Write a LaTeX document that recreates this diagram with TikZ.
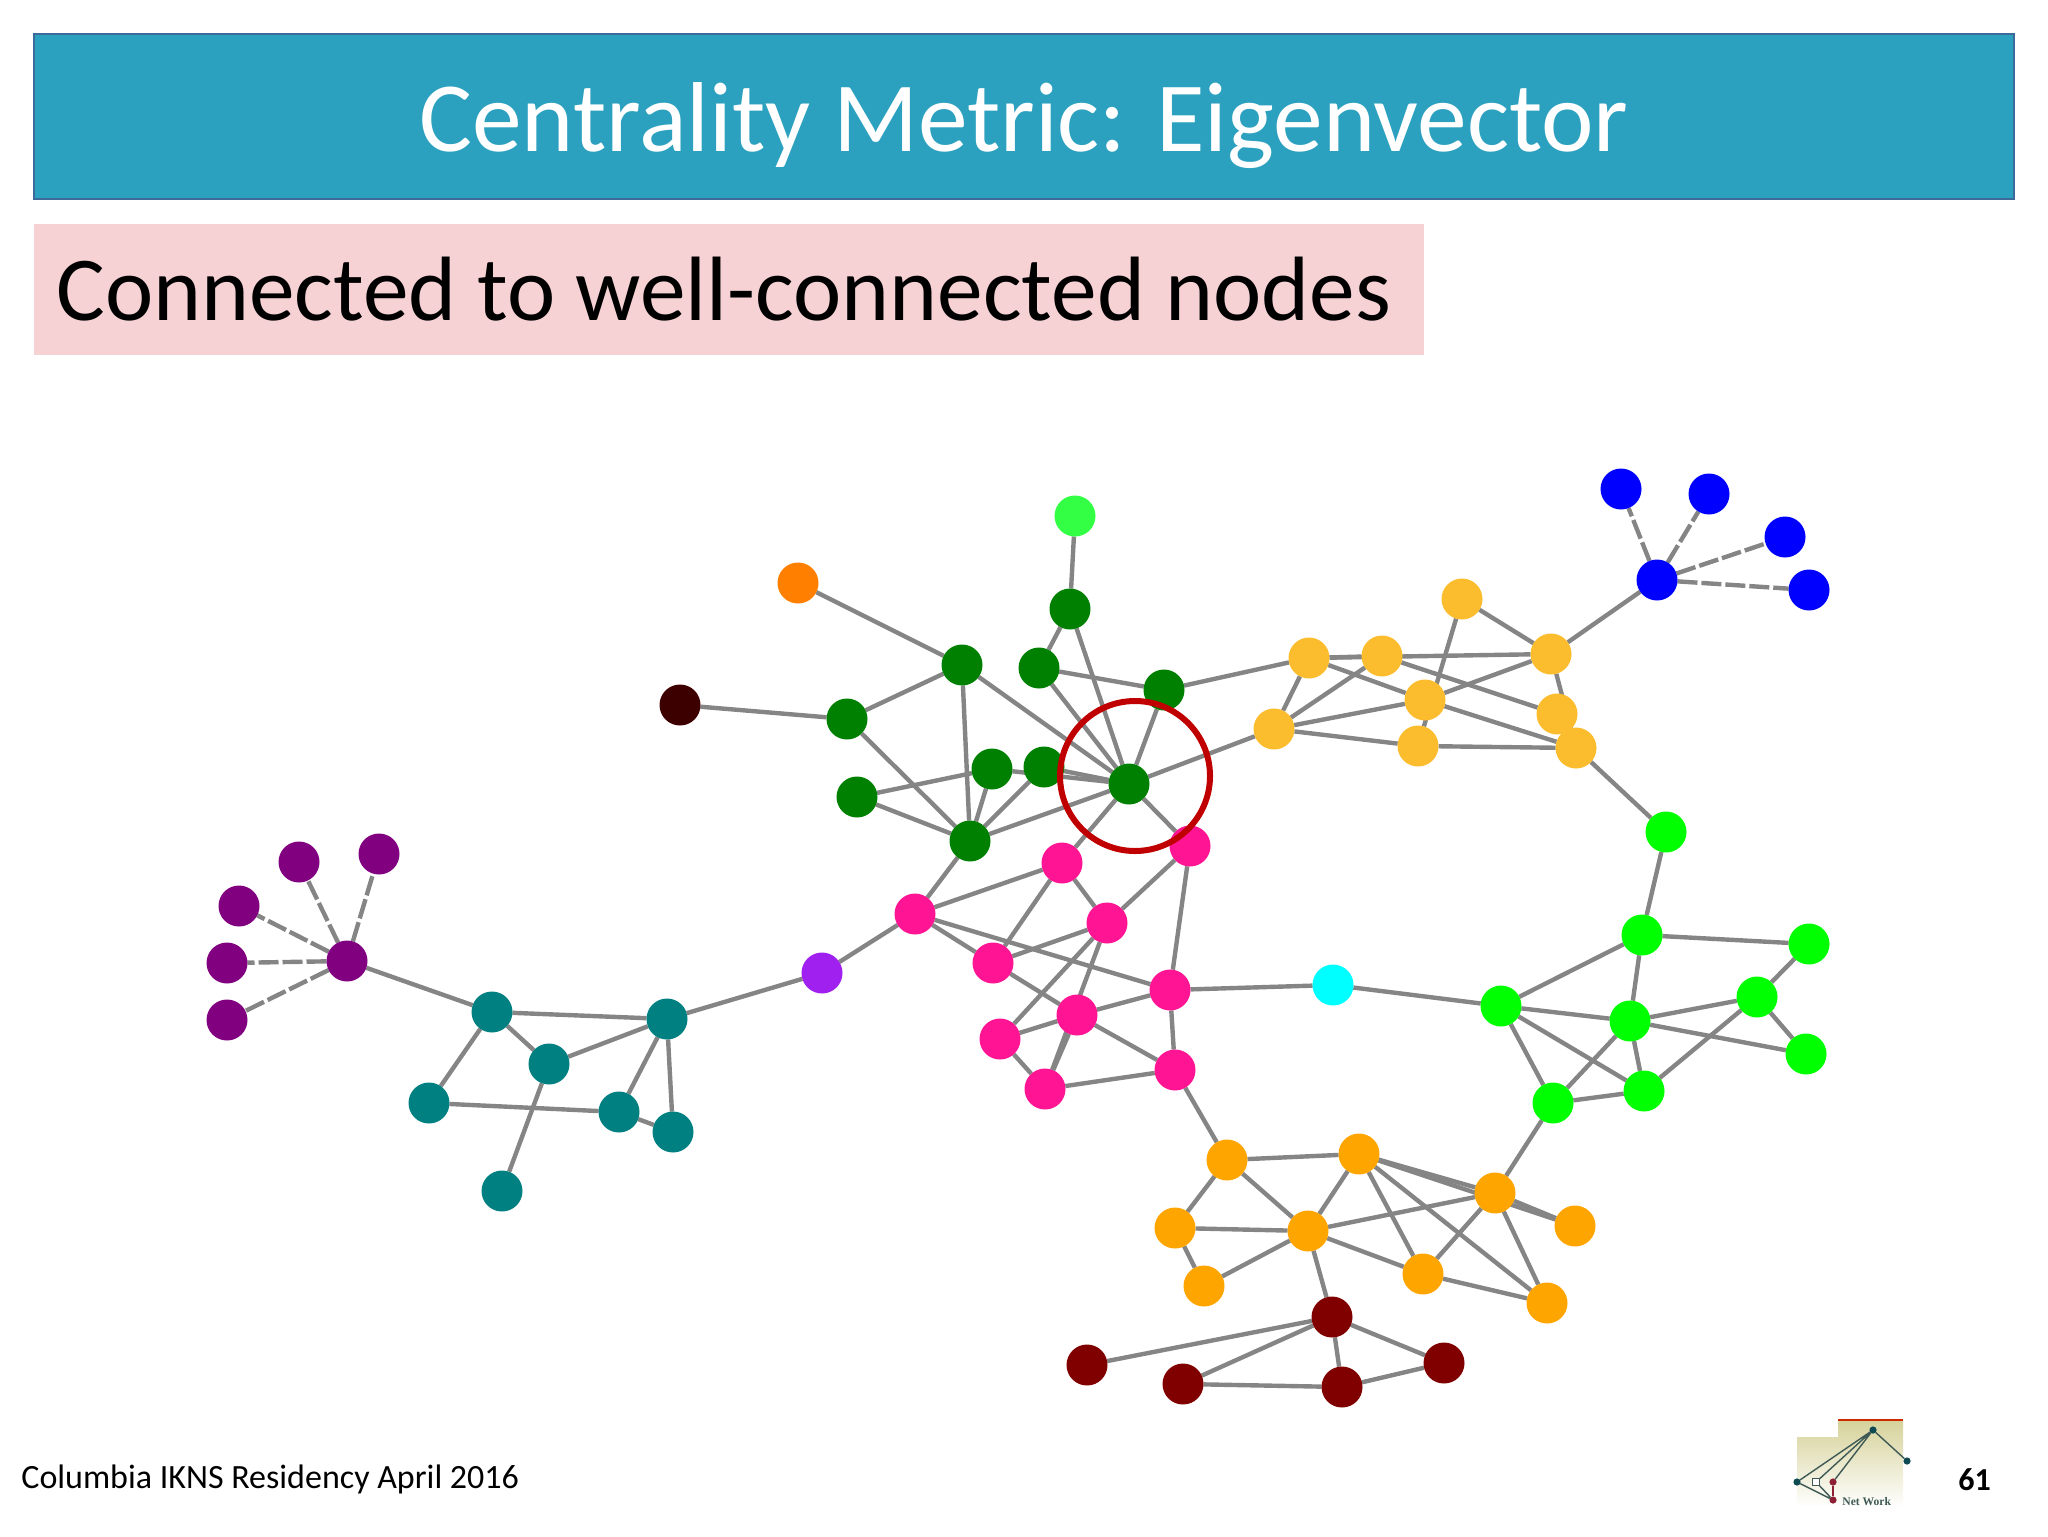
\documentclass[tikz,border=0pt]{standalone}
\usepackage{fontspec}
\setmainfont{Carlito}
\newfontfamily\logofont{Liberation Serif}
\usetikzlibrary{backgrounds}
\definecolor{barblue}{HTML}{2CA1BF}
\definecolor{barline}{HTML}{3D6A99}
\definecolor{subpink}{HTML}{F6D2D5}
\definecolor{edgegray}{HTML}{858585}
\definecolor{ringred}{HTML}{C00000}
\definecolor{cpurple}{HTML}{800080}
\definecolor{cteal}{HTML}{008080}
\definecolor{cgreen}{HTML}{008000}
\definecolor{cpink}{HTML}{FF1493}
\definecolor{cgold}{HTML}{FBBC2E}
\definecolor{corange}{HTML}{FFA500}
\definecolor{clime}{HTML}{00FF00}
\definecolor{cblue}{HTML}{0000FF}
\definecolor{cmaroon}{HTML}{800000}
\definecolor{ccyan}{HTML}{00FFFF}
\definecolor{cviolet}{HTML}{A020F0}
\definecolor{cmint}{HTML}{33FF44}
\definecolor{cdeep}{HTML}{FF8000}
\definecolor{cbrown}{HTML}{3D0000}
\definecolor{logotop}{HTML}{D6D29A}
\definecolor{logoink}{HTML}{3F5A55}
\definecolor{logodot}{HTML}{0E4A52}
\definecolor{logored}{HTML}{8E2035}
\tikzset{
  dot/.style={circle,fill=#1,draw=none,inner sep=0pt,outer sep=0pt,minimum size=20.5pt},
  edge/.style={draw=edgegray,line width=2.2pt},
  dashedge/.style={edge,dash pattern=on 10pt off 2pt},
  logoline/.style={draw=logoink,line width=0.7pt},
  logodotst/.style={circle,fill=#1,draw=none,inner sep=0pt,outer sep=0pt,minimum size=3.6pt},
}
\begin{document}
\begin{tikzpicture}[x=0.5pt,y=-0.5pt]
\useasboundingbox (0,0) rectangle (2048,1536);
% header
\path[fill=barblue,draw=barline,line width=0.6pt] (34,34) rectangle (2014,199);
\path[fill=subpink] (34,224) rectangle (1424,355);
\node[anchor=base,text=white,font=\fontsize{49.7}{60}\selectfont,inner sep=0pt] (title) at (1024,151) {Centrality Metric: Eigenvector};
\node[anchor=base west,text=black,font=\fontsize{45.7}{54}\selectfont,inner sep=0pt] (subtitle) at (56,320) {Connected to well-connected nodes};
\node[anchor=base west,text=black,font=\fontsize{17}{20}\selectfont,inner sep=0pt] (footer) at (21,1488) {Columbia IKNS Residency April 2016};
\node[anchor=base west,text=black,font=\fontsize{16}{19}\selectfont\bfseries,inner sep=0pt] (pageno) at (1958,1490) {61};
% logo
\shade[top color=logotop,bottom color=white] (1797,1437) -- (1838,1437) -- (1838,1420) -- (1903,1420) -- (1903,1507) -- (1797,1507) -- cycle;
\draw[color=red!60!orange!80!black,line width=0.6pt] (1838,1420) -- (1903,1420);
\node[logodotst=logodot] (lt) at (1873,1430) {};
\node[logodotst=logodot] (lr) at (1907,1461) {};
\node[logodotst=logodot] (ll) at (1797,1482) {};
\node[draw=logoink,fill=white,line width=0.4pt,inner sep=0pt,minimum size=3.4pt] (ls) at (1816,1482) {};
\node[logodotst=logored] (lm) at (1833,1482) {};
\node[logodotst=logored] (lb) at (1833,1500) {};
\draw[logoline] (lt) -- (lr) (lt) -- (ll) (lt) -- (ls) (lt) -- (lm) (ll) -- (lb) (ls) -- (lb);
\draw[draw=logored,line width=0.8pt] (lm) -- (lb);
\node[anchor=base west,text=logoink,font=\logofont\bfseries\fontsize{5.8}{7}\selectfont,inner sep=0pt] (logotext) at (1842,1505) {Net Work};
% nodes
\foreach \n/\x/\y in {p1/299/862,p2/379/854,p3/239/906,p4/227/963,p5/227/1020,ph/347/961}
  \node[dot=cpurple] (\n) at (\x,\y) {};
\foreach \n/\x/\y in {t1/492/1012,t2/667/1019,t3/549/1064,t4/429/1103,t5/619/1112,t6/673/1132,t7/502/1191}
  \node[dot=cteal] (\n) at (\x,\y) {};
\node[dot=cviolet] (vi) at (822,973) {};
\node[dot=cmint] (mi) at (1075,516) {};
\node[dot=cdeep] (de) at (798,583) {};
\node[dot=cbrown] (br) at (680,705) {};
\foreach \n/\x/\y in {g1/1070/609,g2/962/665,g3/1039/668,g4/1164/690,g5/847/719,g6/992/769,g7/1044/767,g8/1129/784,g9/857/797,g10/970/841}
  \node[dot=cgreen] (\n) at (\x,\y) {};
\foreach \n/\x/\y in {k1/1190/846,k2/1062/863,k3/915/914,k4/1107/923,k5/993/963,k6/1170/990,k7/1077/1015,k8/1000/1039,k9/1045/1089,k10/1175/1070}
  \node[dot=cpink] (\n) at (\x,\y) {};
\node[dot=ccyan] (cy) at (1333,985) {};
\foreach \n/\x/\y in {y1/1462/599,y2/1309/658,y3/1382/656,y4/1551/654,y5/1274/729,y6/1425/700,y7/1418/746,y8/1557/714,y9/1576/748}
  \node[dot=cgold] (\n) at (\x,\y) {};
\foreach \n/\x/\y in {b1/1621/489,b2/1709/494,b3/1785/537,b4/1809/590,bh/1657/580}
  \node[dot=cblue] (\n) at (\x,\y) {};
\foreach \n/\x/\y in {n0/1666/832,n1/1642/935,n2/1809/944,n3/1757/997,n4/1501/1006,n5/1630/1021,n6/1806/1054,n7/1644/1091,n8/1553/1103}
  \node[dot=clime] (\n) at (\x,\y) {};
\foreach \n/\x/\y in {o1/1227/1160,o2/1359/1154,o3/1495/1193,o4/1575/1226,o5/1175/1228,o6/1308/1231,o7/1204/1286,o8/1423/1274,o9/1547/1303}
  \node[dot=corange] (\n) at (\x,\y) {};
\foreach \n/\x/\y in {d1/1332/1317,d2/1444/1363,d3/1183/1384,d4/1342/1387,d5/1087/1365}
  \node[dot=cmaroon] (\n) at (\x,\y) {};
% ring
\node[circle,draw=ringred,line width=3pt,fill=none,inner sep=0pt,outer sep=0pt,minimum size=75pt] (ring) at (1135,776) {};
% edges
\begin{pgfonlayer}{background}
\foreach \a/\b in {ph/p1,ph/p2,ph/p3,ph/p4,ph/p5,bh/b1,bh/b2,bh/b3,bh/b4}
  \draw[dashedge] (\a) -- (\b);
\foreach \a/\b in {ph/t1,t1/t2,t1/t3,t1/t4,t3/t2,t3/t7,t4/t5,t5/t2,t5/t6,t6/t2,t2/vi,vi/k3,
  mi/g1,de/g2,br/g5,g5/g2,g5/g10,g2/g10,g2/g8,g1/g3,g1/g8,g3/g4,g3/g8,g4/g8,g4/y2,g9/g6,g6/g8,g7/g8,g9/g10,g6/g10,g7/g10,g10/g8,g10/k3,g8/y5,g8/k1,g8/k2,
  k3/k2,k3/k5,k3/k6,k2/k4,k2/k5,k4/k1,k1/k6,k4/k5,k4/k8,k4/k9,k7/k9,k5/k7,k7/k6,k7/k8,k7/k10,k8/k9,k9/k10,k6/k10,k6/cy,k10/o1,cy/n4,
  y1/y4,y1/y7,y2/y3,y2/y4,y2/y5,y2/y6,y6/y9,y3/y5,y3/y8,y4/y6,y4/y9,y5/y6,y5/y7,y7/y9,y4/bh,y9/n0,n0/n1,
  n1/n2,n1/n4,n1/n5,n2/n3,n3/n5,n3/n6,n3/n7,n4/n5,n4/n7,n4/n8,n5/n6,n5/n7,n5/n8,n7/n8,n8/o3,
  o1/o2,o1/o5,o1/o6,o2/o3,o2/o4,o2/o6,o2/o8,o2/o9,o3/o4,o3/o6,o3/o8,o3/o9,o5/o6,o5/o7,o6/o7,o6/o8,o6/d1,o8/o9,
  d1/d5,d1/d3,d1/d4,d1/d2,d3/d4,d4/d2}
  \draw[edge] (\a) -- (\b);
\end{pgfonlayer}
\end{tikzpicture}
\end{document}
